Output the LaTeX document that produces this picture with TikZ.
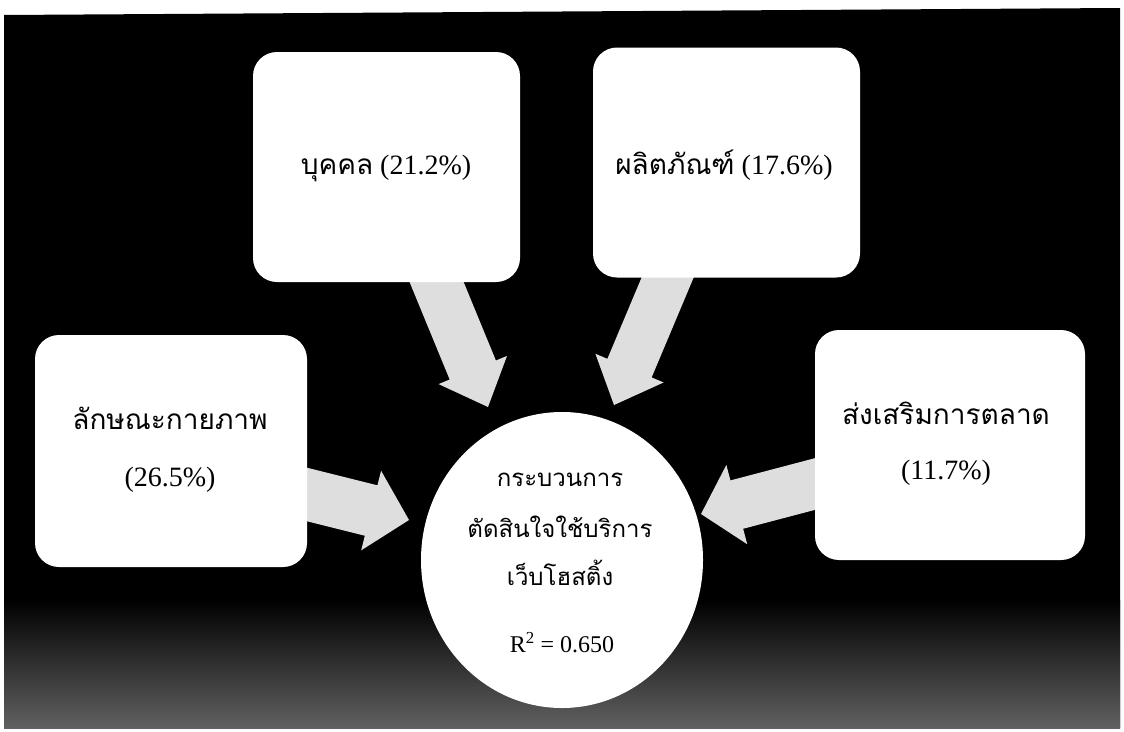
\documentclass[tikz,border=0pt]{standalone}
\usepackage{fontspec}
\setmainfont{Liberation Serif}
\newfontfamily\thaifont[Script=Thai]{Loma}
\usetikzlibrary{calc,shapes.geometric}
\tikzset{
  box/.style={fill=white, rounded corners=24pt, minimum width=267pt, minimum height=230pt, inner sep=0pt},
  hub/.style={ellipse, fill=white, minimum width=282pt, minimum height=296pt, inner sep=0pt},
  arrowfill/.style={fill=black!13},
  boxtext/.style={font=\fontsize{28}{30}\selectfont, inner sep=0pt, anchor=center},
  hubtext/.style={font=\fontsize{24}{26}\selectfont, inner sep=0pt, anchor=center}
}
\newcommand{\blockarr}[5]{%
  \coordinate (#1-#2-t) at ($(#1)!-14pt!(#2)$);
  \coordinate (#1-#2-h) at ($(#2)!#5!(#1)$);
  \fill[arrowfill] ($(#1-#2-t)!#3!90:(#2)$) -- ($(#1-#2-h)!#3!90:(#2)$)
    -- ($(#1-#2-h)!#4!90:(#2)$) -- (#2) -- ($(#1-#2-h)!#4!-90:(#2)$)
    -- ($(#1-#2-h)!#3!-90:(#2)$) -- ($(#1-#2-t)!#3!-90:(#2)$) -- cycle;
}
\begin{document}
\begin{tikzpicture}[x=1pt,y=-1pt]
  % page and background
  \fill[white] (0,0) rectangle (1124,731);
  \useasboundingbox (0,0) rectangle (1124,731);
  \fill[black] (4,15) -- (1120,8) -- (1120,728) -- (4,728) -- cycle;
  \shade[top color=black, bottom color=black!62] (4,600) rectangle (1120,728);

  % arrow end points
  \coordinate (tL) at (305,494);
  \coordinate (pL) at (409,520);
  \coordinate (tP) at (437,283);
  \coordinate (pP) at (488,407);
  \coordinate (tR) at (667,279);
  \coordinate (pR) at (614,405);
  \coordinate (tM) at (815,484);
  \coordinate (pM) at (701,514);

  \blockarr{tL}{pL}{26pt}{41pt}{39pt}
  \blockarr{tP}{pP}{25pt}{37pt}{40pt}
  \blockarr{tR}{pR}{24pt}{37pt}{40pt}
  \blockarr{tM}{pM}{25pt}{41pt}{37pt}

  % boxes
  \node[box] (person) at (386.5,167) {};
  \node[box] (product) at (726.5,162.5) {};
  \node[box, minimum width=272pt, minimum height=232pt] (physical) at (171,451) {};
  \node[box, minimum width=270pt] (promo) at (950,445) {};

  \node[boxtext] (personT) at (386,168) {{\thaifont บุคคล} (21.2\%)};
  \node[boxtext] (productT) at (724,165) {{\thaifont ผลิตภัณฑ์} (17.6\%)};
  \node[boxtext] (physT1) at (170,418) {\thaifont ลักษณะกายภาพ};
  \node[boxtext] (physT2) at (170,480) {(26.5\%)};
  \node[boxtext] (promoT1) at (946,413) {\thaifont ส่งเสริมการตลาด};
  \node[boxtext] (promoT2) at (946,473) {(11.7\%)};

  % hub
  \node[hub] (hub) at (562,560) {};
  \node[hubtext] (hubT1) at (560,480) {\thaifont กระบวนการ};
  \node[hubtext] (hubT2) at (560,527) {\thaifont ตัดสินใจใช้บริการ};
  \node[hubtext] (hubT3) at (560,573) {\thaifont เว็บโฮสติ้ง};
  \node[hubtext] (hubT4) at (562,643) {R\textsuperscript{2} = 0.650};
\end{tikzpicture}
\end{document}
